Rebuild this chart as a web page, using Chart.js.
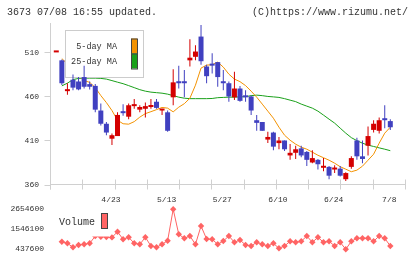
<!DOCTYPE html>
<html>
<head>
<meta charset="utf-8">
<script src="https://cdn.jsdelivr.net/npm/chart.js@4.4.1/dist/chart.umd.min.js"></script>
<style>
html, body { margin: 0; padding: 0; background: #fff; }
#wrap { position: relative; width: 420px; height: 259px; overflow: hidden; font-family: "Liberation Mono", monospace; }
canvas { position: absolute; left: 0; top: 0; }
.hdr { position: absolute; top: 6px; font-size: 10px; line-height: 14px; color: #333; white-space: pre; }
</style>
</head>
<body>
<div id="wrap">
  <canvas id="price" width="420" height="259"></canvas>
  <canvas id="vol" width="420" height="259"></canvas>
  <div class="hdr" style="left:7px">3673 07/08 16:55 updated.</div>
  <div class="hdr" style="right:12px">(C)https://www.rizumu.net/</div>
</div>
<script>
// trading days, only some of them get a label on the axis
const dates = [
  '4/9', '4/10', '4/11', '4/14', '4/15', '4/16', '4/17', '4/18', '4/21', '4/22',
  '4/23', '4/24', '4/25', '4/30', '5/1', '5/2', '5/7', '5/8', '5/9', '5/12',
  '5/13', '5/14', '5/15', '5/16', '5/19', '5/20', '5/21', '5/22', '5/23', '5/26',
  '5/27', '5/28', '5/29', '5/30', '6/2', '6/3', '6/4', '6/5', '6/6', '6/9',
  '6/10', '6/11', '6/12', '6/13', '6/16', '6/17', '6/18', '6/19', '6/20', '6/23',
  '6/24', '6/25', '6/26', '6/27', '6/30', '7/1', '7/2', '7/3', '7/4', '7/7',
  '7/8'
];
const tickDates = ['4/23', '5/13', '5/27', '6/10', '6/24', '7/8'];

const open = [
  510, 501, 466, 479, 477, 482, 474, 472, 444, 429,
  412, 415, 442, 437, 449, 445, 446, 448, 454, 444,
  442, 459, 477, 476, 501, 505, 528, 494, 497, 499,
  476, 475, 459, 469, 461, 460, 433, 431, 411, 419,
  407, 410, 393, 396, 401, 397, 385, 388, 379, 380,
  377, 378, 366, 380, 410, 392, 404, 422, 421, 435,
  432
];
const high = [
  510, 502, 475, 485, 482, 495, 477, 474, 452, 431,
  418, 442, 451, 452, 457, 450, 453, 457, 457, 446,
  444, 491, 495, 490, 525, 518, 541, 496, 509, 499,
  490, 477, 488, 472, 467, 461, 439, 431, 420, 420,
  414, 410, 406, 404, 404, 398, 399, 389, 390, 381,
  382, 381, 374, 392, 413, 410, 426, 433, 436, 450,
  434
];
const low = [
  510, 473, 462, 467, 467, 469, 468, 442, 427, 416,
  405, 415, 438, 434, 446, 442, 436, 446, 446, 439,
  420, 450, 469, 459, 494, 501, 496, 475, 486, 471,
  467, 454, 456, 454, 454, 439, 421, 421, 407, 399,
  400, 398, 388, 389, 391, 381, 384, 377, 375, 366,
  373, 369, 364, 378, 388, 384, 393, 419, 418, 424,
  422
];
const close = [
  510, 475, 468, 470, 468, 471, 471, 445, 429, 419,
  416, 439, 441, 450, 451, 448, 449, 450, 447, 446,
  421, 476, 475, 475, 504, 511, 500, 483, 495, 482,
  475, 460, 469, 455, 459, 444, 430, 421, 414, 403,
  410, 400, 396, 400, 393, 388, 390, 383, 381, 370,
  379, 370, 373, 390, 392, 389, 415, 429, 433, 433,
  425
];
const ma5 = [
  null, 503, 497, 490, 484, 478, 476, 470, 461, 453,
  444, 433, 429, 428.5, 431.4, 436.5, 440.5, 442.7, 445, 447.5,
  446.7, 442.5, 447.8, 451.8, 458, 472.8, 492.2, 495.6, 496, 499,
  493.3, 485.3, 479.7, 476.8, 472.3, 466, 459.2, 451.3, 443.3, 435.3,
  425.1, 416, 410.3, 405.8, 402.4, 400.1, 396.7, 393.2, 390.4, 387.6,
  384.2, 380.2, 377.4, 374.5, 376.3, 380.8, 387.6, 394.4, 406.9, 418.3,
  425.1
];
const ma25 = [
  null, 472, 475.1, 479.1, 480.5, 480.8, 480.8, 480.8, 480.5, 479.7,
  478, 476.2, 474.5, 472.3, 470, 467.7, 466, 464.9, 464.3, 463.7,
  462.6, 460.9, 459.2, 458, 457.5, 457.5, 457.5, 457.5, 457.7, 458.6,
  458.9, 459.2, 459.2, 459.5, 459.7, 460.9, 461.5, 460.9, 460, 459.5,
  458.9, 457.5, 455.8, 454.1, 451.3, 449, 446.7, 443.3, 438.8, 434.2,
  429.7, 424, 418.3, 413.2, 409.8, 406.9, 404.7, 403.2, 401.6, 400.1,
  398.4
];
const volume = [
  null, 842000, 753000, 532000, 659000, 698000, 753000, 1150000, 1120000, 1100000,
  1080000, 1396000, 975000, 1086000, 753000, 698000, 1086000, 604000, 532000, 698000,
  898000, 2640000, 1252000, 1030000, 1158000, 698000, 1712000, 992000, 975000, 698000,
  881000, 1158000, 809000, 936000, 659000, 604000, 809000, 698000, 604000, 753000,
  476000, 604000, 864000, 809000, 864000, 1158000, 809000, 1086000, 809000, 864000,
  604000, 809000, 421000, 864000, 1030000, 1030000, 1030000, 864000, 1158000, 1030000,
  604000
];

const priceTicks = [360, 410, 460, 510];
const volTicks = [437600, 1546100, 2654600];

const RED = '#d40000';
const BLUE = '#4040c0';
const ORANGE = '#f39200';
const GREEN = '#1aa01a';
const VOLRED = '#ff6464';
const AXIS = '#d0d0d0';
const TEXT = '#333';
const FONT = '"Liberation Mono", monospace';

// x range shared by both panels so candles and volume line up
const xMin = -1.13, xMax = 62.64;

const candleColor = close.map((c, i) => c >= open[i] ? RED : BLUE);
const toPoints = arr => arr.map((v, i) => ({ x: i, y: v })).filter(p => p.y !== null);

// axes, tick marks and labels for the price panel
const priceAxes = {
  id: 'priceAxes',
  beforeDatasetsDraw(chart) {
    const { ctx, chartArea: a, scales: { x, y } } = chart;
    const bottom = Math.floor(a.bottom) + 0.5;
    const left = Math.floor(a.left) + 0.5;
    ctx.save();
    ctx.strokeStyle = AXIS;
    ctx.lineWidth = 1;
    ctx.beginPath();
    ctx.moveTo(left, a.top - 3);
    ctx.lineTo(left, bottom + 5);
    ctx.moveTo(a.left, bottom);
    ctx.lineTo(a.right, bottom);
    for (let k = 0; k <= 11; k++) {
      const px = Math.round(a.left + k * (a.right - a.left) / 11) + 0.5;
      ctx.moveTo(px, bottom - 5);
      ctx.lineTo(px, bottom + 5);
    }
    priceTicks.forEach(v => {
      const py = Math.round(y.getPixelForValue(v)) + 0.5;
      ctx.moveTo(left - 6, py);
      ctx.lineTo(left, py);
    });
    ctx.stroke();

    ctx.fillStyle = TEXT;
    ctx.font = '8px ' + FONT;
    ctx.textAlign = 'right';
    ctx.textBaseline = 'middle';
    priceTicks.forEach(v => ctx.fillText(String(v), a.left - 11, y.getPixelForValue(v)));

    ctx.textAlign = 'center';
    dates.forEach((d, i) => {
      if (tickDates.includes(d)) ctx.fillText(d, x.getPixelForValue(i) - 1, bottom + 15);
    });
    ctx.restore();
  }
};

// legend box sits above the MA lines but below the candles
const priceLegend = {
  id: 'priceLegend',
  beforeDatasetDraw(chart, args) {
    if (args.index !== 0) return;
    const { ctx, chartArea: a } = chart;
    const lx = a.left + 15, ly = a.top + 4;
    ctx.save();
    ctx.fillStyle = '#fff';
    ctx.fillRect(lx, ly, 78, 47);
    ctx.strokeStyle = '#cccccc';
    ctx.lineWidth = 1;
    ctx.strokeRect(lx + 0.5, ly + 0.5, 78, 47);
    ctx.font = '8.5px ' + FONT;
    ctx.textAlign = 'right';
    ctx.textBaseline = 'middle';
    [2, 3].forEach((di, row) => {
      const ds = chart.data.datasets[di];
      const cy = ly + 16.5 + row * 15;
      ctx.fillStyle = TEXT;
      ctx.fillText(ds.label, lx + 52, cy);
      ctx.fillStyle = ds.borderColor;
      ctx.fillRect(lx + 66, cy - 8, 6, 15);
      ctx.strokeStyle = '#444';
      ctx.strokeRect(lx + 66.5, cy - 7.5, 6, 15);
    });
    ctx.restore();
  }
};

new Chart(document.getElementById('price'), {
  type: 'bar',
  data: {
    datasets: [
      {
        label: 'wick',
        data: dates.map((d, i) => ({ x: i, y: [low[i], high[i]] })),
        backgroundColor: candleColor,
        barThickness: 1,
        grouped: false,
        inflateAmount: 0,
        clip: false,
        order: 2
      },
      {
        label: 'body',
        data: dates.map((d, i) => ({ x: i, y: [open[i], close[i]] })),
        backgroundColor: candleColor,
        barThickness: 5,
        minBarLength: 2,
        grouped: false,
        inflateAmount: 0,
        clip: false,
        order: 1
      },
      {
        type: 'line',
        label: '5-day MA',
        data: toPoints(ma5),
        borderColor: ORANGE,
        borderWidth: 1,
        pointRadius: 0,
        tension: 0,
        order: 3
      },
      {
        type: 'line',
        label: '25-day MA',
        data: toPoints(ma25),
        borderColor: GREEN,
        borderWidth: 1,
        pointRadius: 0,
        tension: 0,
        order: 4
      }
    ]
  },
  options: {
    responsive: false,
    animation: false,
    events: [],
    layout: { padding: { left: 50, right: 15, top: 26, bottom: 74.5 } },
    plugins: { legend: { display: false }, tooltip: { enabled: false } },
    scales: {
      x: { type: 'linear', min: xMin, max: xMax, offset: false, display: false },
      y: { min: 360, max: 540, display: false }
    }
  },
  plugins: [priceAxes, priceLegend]
});

// volume panel
const volAxes = {
  id: 'volAxes',
  beforeDatasetsDraw(chart) {
    const { ctx, chartArea: a, scales: { y } } = chart;
    ctx.save();
    ctx.fillStyle = TEXT;
    ctx.font = '8px ' + FONT;
    ctx.textAlign = 'right';
    ctx.textBaseline = 'middle';
    volTicks.forEach(v => ctx.fillText(String(v), a.left - 6, y.getPixelForValue(v)));
    ctx.restore();
  }
};

const volLegend = {
  id: 'volLegend',
  afterDatasetsDraw(chart) {
    const { ctx, chartArea: a } = chart;
    const ds = chart.data.datasets[0];
    const lx = a.left + 6, ly = a.top + 6;
    ctx.save();
    ctx.fillStyle = '#fff';
    ctx.fillRect(lx, ly, 54, 25.5);
    ctx.fillStyle = TEXT;
    ctx.font = '10px ' + FONT;
    ctx.textAlign = 'left';
    ctx.textBaseline = 'middle';
    ctx.fillText(ds.label, lx + 3, ly + 11.5);
    ctx.fillStyle = ds.borderColor;
    ctx.fillRect(lx + 45.5, ly + 2.5, 6, 15);
    ctx.strokeStyle = '#444';
    ctx.lineWidth = 1;
    ctx.strokeRect(lx + 45.5, ly + 2.5, 6, 15);
    ctx.restore();
  }
};

new Chart(document.getElementById('vol'), {
  type: 'line',
  data: {
    datasets: [{
      label: 'Volume',
      data: toPoints(volume),
      borderColor: VOLRED,
      backgroundColor: VOLRED,
      borderWidth: 1,
      pointStyle: 'rectRot',
      pointRadius: 3.2,
      pointBorderWidth: 0,
      tension: 0
    }]
  },
  options: {
    responsive: false,
    animation: false,
    events: [],
    layout: { padding: { left: 50, right: 15, top: 205, bottom: 5 } },
    plugins: { legend: { display: false }, tooltip: { enabled: false } },
    scales: {
      x: { type: 'linear', min: xMin, max: xMax, offset: false, display: false },
      y: { min: 160475, max: 2876300, display: false }
    }
  },
  plugins: [volAxes, volLegend]
});
</script>
</body>
</html>
